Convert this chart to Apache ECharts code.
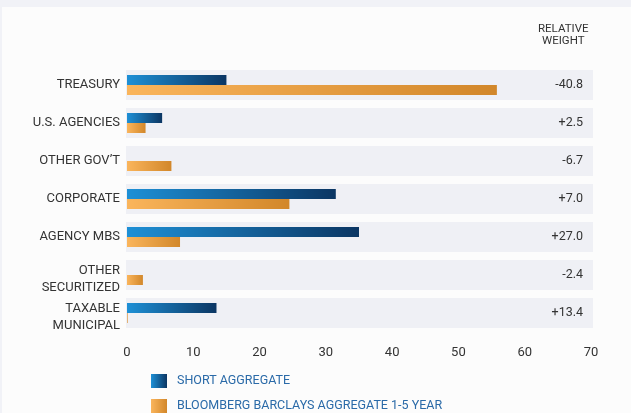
<!DOCTYPE html>
<html><head><meta charset="utf-8">
<script src="https://cdn.jsdelivr.net/npm/echarts@6/dist/echarts.min.js"></script>
<style>
html,body{margin:0;padding:0;background:#f1f2f7;width:631px;height:413px;overflow:hidden}
#c{position:absolute;left:2px;top:7px;width:629px;height:406px;background:#fcfcfc}
</style></head><body><div id="c"></div>
<script>
const categories = ['TREASURY','U.S. AGENCIES','OTHER GOV\u2019T','CORPORATE','AGENCY MBS','OTHER\nSECURITIZED','TAXABLE\nMUNICIPAL'];
const shortAggregate = [15.0, 5.3, 0, 31.5, 35.0, 0, 13.5];
const bloombergAgg = [55.8, 2.8, 6.7, 24.5, 8.0, 2.4, 0.1];
const relativeWeight = ['-40.8','+2.5','-6.7','+7.0','+27.0','-2.4','+13.4'];
const xTicks = [0,10,20,30,40,50,60,70];
const bandValues = categories.map(() => 1);
const seriesNames = ['SHORT AGGREGATE','BLOOMBERG BARCLAYS AGGREGATE 1-5 YEAR'];

const font = "Roboto,'Liberation Sans',sans-serif";
const blueGrad = new echarts.graphic.LinearGradient(0,0,1,0,[{offset:0,color:'#1e90d6'},{offset:1,color:'#0b3663'}]);
const orangeGrad = new echarts.graphic.LinearGradient(0,0,1,0,[{offset:0,color:'#fab55c'},{offset:1,color:'#d2872a'}]);

function catFormatter(v){
  if (v.indexOf('\n') < 0) return '{m|' + v + '}';
  return '{s|}\n' + v.split('\n').map(l => '{m|' + l + '}').join('\n');
}

const legendBase = {orient:'vertical',left:144,itemWidth:16,itemHeight:14,icon:'rect',
    textStyle:{color:'#2a6aa8',fontSize:12.5,fontFamily:font,padding:[0,0,0,5]}};

const chart = echarts.init(document.getElementById('c'), null, {renderer:'canvas'});
chart.setOption({
  animation:false,
  textStyle:{fontFamily:font},
  graphic:[{type:'text',left:536,top:16,style:{text:'RELATIVE\nWEIGHT',fill:'#333',font:"11.5px "+font,lineHeight:12,align:'center',textAlign:'center'}}],
  legend:[
    Object.assign({top:362,data:[seriesNames[0]]}, legendBase),
    Object.assign({top:387,data:[seriesNames[1]]}, legendBase)
  ],
  grid:[
    {left:125,width:464,top:59,height:266},
    {left:124,width:467,top:59,height:266}
  ],
  xAxis:[
    {gridIndex:0,type:'value',min:0,max:70,interval:10,axisLine:{show:false},axisTick:{show:false},splitLine:{show:false},
     axisLabel:{color:'#333',fontSize:13,margin:14,fontFamily:font}},
    {gridIndex:1,type:'value',min:0,max:1,show:false}
  ],
  yAxis:[
    {gridIndex:0,type:'category',data:categories,inverse:true,axisLine:{show:false},axisTick:{show:false},
     axisLabel:{color:'#333',fontSize:13,margin:7,formatter:catFormatter,
       rich:{m:{fontSize:13,lineHeight:17,color:'#333',fontFamily:font,align:'right'},s:{lineHeight:8,fontSize:1}}}},
    {gridIndex:0,type:'category',data:relativeWeight,inverse:true,position:'right',axisLine:{show:false},axisTick:{show:false},
     axisLabel:{inside:true,color:'#333',fontSize:12.5,margin:8,fontFamily:font}},
    {gridIndex:1,type:'category',data:categories,inverse:true,show:false}
  ],
  series:[
    {type:'bar',xAxisIndex:1,yAxisIndex:2,data:bandValues,barWidth:30,itemStyle:{color:'#eff0f5'},silent:true,z:0,legendHoverLink:false},
    {name:seriesNames[0],type:'bar',xAxisIndex:0,yAxisIndex:0,data:shortAggregate,barWidth:10,barGap:'0%',itemStyle:{color:blueGrad},z:2},
    {name:seriesNames[1],type:'bar',xAxisIndex:0,yAxisIndex:0,data:bloombergAgg,barWidth:10,barGap:'0%',itemStyle:{color:orangeGrad},z:2}
  ]
});
</script></body></html>
